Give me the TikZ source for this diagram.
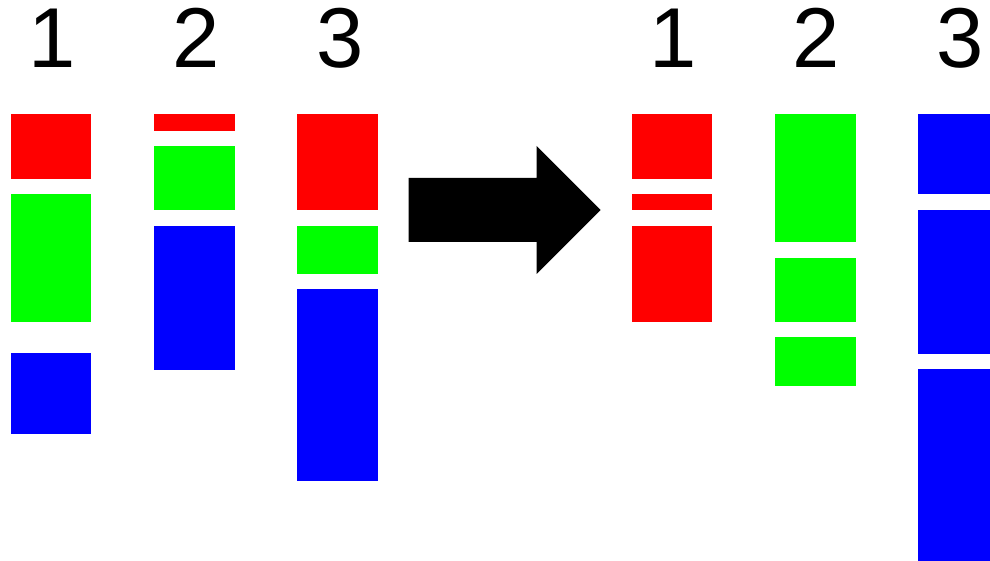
\documentclass[tikz,border=0pt]{standalone}
\usepackage{fontspec}
\setmainfont{Liberation Sans}
\definecolor{segred}{RGB}{255,0,0}
\definecolor{seggreen}{RGB}{0,255,0}
\definecolor{segblue}{RGB}{0,0,255}
\begin{document}
\begin{tikzpicture}[x=1pt,y=-1pt,
  lbl/.style={anchor=base,inner sep=0pt,font=\fontsize{85}{90}\selectfont},
  rseg/.style={fill=segred},
  gseg/.style={fill=seggreen},
  bseg/.style={fill=segblue}]
\useasboundingbox (0,0) rectangle (990,561);

% column labels, before
\node[lbl] (l1) at (52,68) {1};
\node[lbl] (l2) at (196,68) {2};
\node[lbl] (l3) at (340,68) {3};
% column labels, after
\node[lbl] (r1) at (673,68) {1};
\node[lbl] (r2) at (816.5,68) {2};
\node[lbl] (r3) at (960,68) {3};

% before: column 1
\fill[rseg] (10.5,114) rectangle (91,179);
\fill[gseg] (10.5,194) rectangle (91,321.5);
\fill[bseg] (10.5,353) rectangle (91,433.5);
% before: column 2
\fill[rseg] (153.5,114) rectangle (234.5,131);
\fill[gseg] (153.5,146) rectangle (234.5,210.5);
\fill[bseg] (153.5,226) rectangle (234.5,369.5);
% before: column 3
\fill[rseg] (297,114) rectangle (377.5,210.5);
\fill[gseg] (297,226) rectangle (377.5,274);
\fill[bseg] (297,289) rectangle (377.5,481);

% block arrow
\fill[black] (408.5,178) -- (536.5,178) -- (536.5,146) -- (600.5,210)
  -- (536.5,274) -- (536.5,242) -- (408.5,242) -- cycle;

% after: column 1
\fill[rseg] (631.5,114) rectangle (712,179);
\fill[rseg] (631.5,194) rectangle (712,210.5);
\fill[rseg] (631.5,226) rectangle (712,321.5);
% after: column 2
\fill[gseg] (775,114) rectangle (855.5,242.5);
\fill[gseg] (775,258) rectangle (855.5,321.5);
\fill[gseg] (775,337) rectangle (855.5,385.5);
% after: column 3
\fill[bseg] (918,114) rectangle (990,194.5);
\fill[bseg] (918,210) rectangle (990,353.5);
\fill[bseg] (918,369) rectangle (990,560.5);
\end{tikzpicture}
\end{document}
